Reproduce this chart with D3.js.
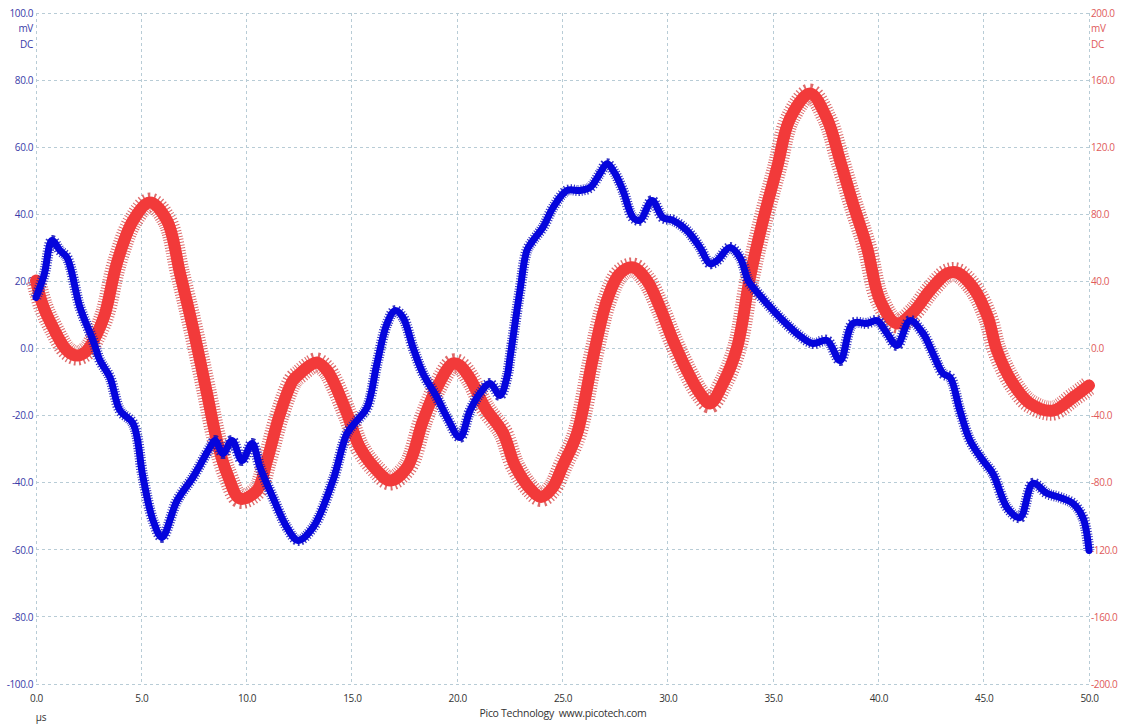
<!DOCTYPE html>
<html>
<head>
<meta charset="utf-8">
<script src="https://cdn.jsdelivr.net/npm/d3@7"></script>
<style>
  html, body { margin: 0; padding: 0; background: #ffffff; }
  svg { display: block; }
  text { font-family: "Open Sans", "DejaVu Sans", sans-serif; }
</style>
</head>
<body>
<svg id="chart" width="1125" height="727"></svg>
<script>
// ---- data ----
const xTicks = [0, 5, 10, 15, 20, 25, 30, 35, 40, 45, 50];
const leftTicks = [-100, -80, -60, -40, -20, 0, 20, 40, 60, 80, 100];
const rightTicks = [-200, -160, -120, -80, -40, 0, 40, 80, 120, 160, 200];

// Channel A (blue, left axis, mV) : time in µs, value in mV
const blueTime = [0.0,0.38,0.76,1.14,1.47,2.09,2.71,3.04,3.51,3.99,4.61,5.08,5.56,5.98,6.70,7.45,8.26,8.50,8.88,9.31,9.78,10.26,10.64,11.25,11.92,12.44,13.15,14.10,14.77,15.24,15.72,16.19,16.67,17.05,17.43,17.90,18.38,19.04,19.52,20.13,20.61,21.08,21.56,22.03,22.36,22.51,22.98,23.31,23.60,24.07,24.55,25.21,25.83,26.31,26.78,27.11,27.49,27.87,28.35,28.68,29.25,29.77,30.25,30.91,31.53,32.00,32.34,32.95,33.43,33.81,34.05,34.71,35.33,36.13,36.89,37.56,38.18,38.79,39.46,39.93,40.41,40.88,41.50,42.12,42.59,43.07,43.40,43.87,44.35,44.97,45.44,46.11,46.72,47.34,48.01,48.62,49.24,49.71,50.0];
const blueValue = [15.2,21.8,32.2,29.2,27.1,12.2,2.4,-3.6,-8.6,-18.5,-22.4,-38.4,-51.3,-56.3,-45.3,-38.4,-29.5,-27.4,-31.3,-27.4,-33.4,-28.3,-35.5,-44.4,-53.4,-57.2,-53.4,-39.3,-25.3,-21.5,-17.6,-4.5,7.5,11.3,9.2,0.3,-7.5,-14.6,-20.6,-26.5,-18.5,-13.4,-10.4,-14.0,-8.6,-2.7,17.3,29.2,32.2,36.1,42.0,47.1,47.1,48.0,52.2,55.1,52.2,47.1,39.0,38.2,44.1,39.0,38.2,35.2,30.1,25.3,26.2,30.1,27.1,20.3,18.2,13.4,9.2,4.5,1.5,2.4,-3.6,7.5,7.5,8.3,4.5,0.9,8.3,4.5,-1.5,-7.5,-8.6,-18.5,-27.4,-33.4,-37.3,-47.4,-50.4,-40.2,-43.2,-44.4,-46.2,-50.4,-60.2];

// Channel B (red, right axis, mV)
const redTime = [0.0,0.33,0.81,1.47,1.95,2.42,2.90,3.28,3.85,4.61,5.41,6.22,6.84,7.45,8.12,8.59,9.07,9.69,10.49,10.97,11.59,12.20,12.54,13.01,13.34,13.82,14.10,14.77,15.38,16.19,16.81,17.62,18.38,19.04,19.80,20.13,20.61,21.32,22.17,22.74,23.46,23.98,24.50,25.02,25.69,26.45,27.11,27.73,28.35,29.01,29.63,30.25,30.91,31.53,32.00,32.62,33.29,33.90,34.52,35.19,35.80,36.75,37.56,38.18,38.79,39.46,40.08,40.88,41.64,42.45,43.26,43.73,44.49,45.20,45.63,46.39,47.20,48.29,49.24,50.0];
const redValue = [40.5,25.6,12.5,-1.2,-4.2,-1.2,8.9,20.9,51.3,76.3,87.0,76.3,44.7,12.5,-26.8,-54.8,-74.5,-89.5,-84.6,-66.8,-38.7,-19.1,-14.9,-10.1,-8.3,-13.1,-19.1,-38.7,-59.0,-72.7,-78.7,-70.9,-42.9,-23.2,-8.9,-10.1,-17.9,-35.2,-50.1,-69.7,-83.5,-88.5,-83.5,-69.7,-50.7,-5.4,28.6,44.7,48.3,40.5,24.4,4.8,-13.1,-26.8,-32.8,-20.9,0.6,42.3,76.3,107.9,137.0,152.0,137.0,112.1,86.4,60.2,28.6,14.9,21.5,34.6,44.7,45.3,36.4,18.5,-1.2,-20.9,-32.8,-37.0,-29.2,-22.1];

// ---- layout ----
const svg = d3.select("#chart");
const L = 36, R = 1089, T = 13, B = 684;

const x = d3.scaleLinear().domain([0, 50]).range([L, R]);
const yL = d3.scaleLinear().domain([-100, 100]).range([B, T]);
const yR = d3.scaleLinear().domain([-200, 200]).range([B, T]);

const gridColor = "#b8ccd6";
const blueText = "#3a3aa8";
const redText = "#e05a5a";

// grid
const grid = svg.append("g");
grid.selectAll("line.v").data(xTicks).join("line")
  .attr("x1", d => x(d)).attr("x2", d => x(d))
  .attr("y1", T).attr("y2", B)
  .attr("stroke", gridColor).attr("stroke-width", 1)
  .attr("stroke-dasharray", "3,3").attr("shape-rendering", "crispEdges");
grid.selectAll("line.h").data(leftTicks).join("line")
  .attr("x1", L).attr("x2", R)
  .attr("y1", d => yL(d)).attr("y2", d => yL(d))
  .attr("stroke", gridColor).attr("stroke-width", 1)
  .attr("stroke-dasharray", "3,3").attr("shape-rendering", "crispEdges");

// axes
const fmt = d => d.toFixed(1);
const axL = svg.append("g").attr("transform", `translate(${L},0)`)
  .call(d3.axisLeft(yL).tickValues(leftTicks).tickFormat(fmt).tickSize(0).tickPadding(3));
axL.select(".domain").remove();
axL.selectAll("text").attr("fill", blueText).style("font-size", "10px")
  .style("font-family", "'Open Sans', sans-serif").style("letter-spacing", "-0.4px");

const axR = svg.append("g").attr("transform", `translate(${R},0)`)
  .call(d3.axisRight(yR).tickValues(rightTicks).tickFormat(fmt).tickSize(0).tickPadding(2));
axR.select(".domain").remove();
axR.selectAll("text").attr("fill", redText).style("font-size", "10px")
  .style("font-family", "'Open Sans', sans-serif").style("letter-spacing", "-0.4px");

const axB = svg.append("g").attr("transform", `translate(0,${B})`)
  .call(d3.axisBottom(x).tickValues(xTicks).tickFormat(fmt).tickSize(0).tickPadding(11));
axB.select(".domain").remove();
axB.selectAll("text").attr("fill", "#333333").style("font-size", "10px")
  .style("font-family", "'Open Sans', sans-serif").style("letter-spacing", "-0.4px");

// unit labels
const unit = (txt, xx, yy, anchor, col) => svg.append("text")
  .attr("x", xx).attr("y", yy).attr("text-anchor", anchor)
  .attr("fill", col).style("font-size", "10px").style("letter-spacing", "-0.3px").text(txt);
unit("mV", 33, 32, "end", blueText);
unit("DC", 33, 48, "end", blueText);
unit("mV", 1091, 32, "start", redText);
unit("DC", 1091, 48, "start", redText);
unit("µs", 41, 721, "middle", "#333333");

svg.append("text").attr("x", 563).attr("y", 717).attr("text-anchor", "middle")
  .attr("fill", "#333333").style("font-size", "10.5px").style("letter-spacing", "-0.3px")
  .style("white-space", "pre")
  .text("Pico Technology  www.picotech.com");

// traces
const red = redTime.map((t, i) => [t, redValue[i]]);
const blue = blueTime.map((t, i) => [t, blueValue[i]]);

const lineR = d3.line().x(d => x(d[0])).y(d => yR(d[1])).curve(d3.curveCatmullRom.alpha(0.5));
const lineB = d3.line().x(d => x(d[0])).y(d => yL(d[1])).curve(d3.curveCatmullRom.alpha(0.5));

const traces = svg.append("g");
// red: spiky fringe + solid core
traces.append("path").datum(red).attr("d", lineR)
  .attr("fill", "none").attr("stroke", "#d64545").attr("stroke-opacity", 0.8)
  .attr("stroke-width", 20).attr("stroke-dasharray", "1,1.8")
  .attr("stroke-linejoin", "round");
traces.append("path").datum(red).attr("d", lineR)
  .attr("fill", "none").attr("stroke", "#f23a3a")
  .attr("stroke-width", 12).attr("stroke-linejoin", "round").attr("stroke-linecap", "round");

// blue: spiky fringe + solid core
traces.append("path").datum(blue).attr("d", lineB)
  .attr("fill", "none").attr("stroke", "#1010b8").attr("stroke-opacity", 0.85)
  .attr("stroke-width", 11).attr("stroke-dasharray", "1,1.6")
  .attr("stroke-linejoin", "round");
traces.append("path").datum(blue).attr("d", lineB)
  .attr("fill", "none").attr("stroke", "#0505dc")
  .attr("stroke-width", 7).attr("stroke-linejoin", "round").attr("stroke-linecap", "round");
</script>
</body>
</html>
